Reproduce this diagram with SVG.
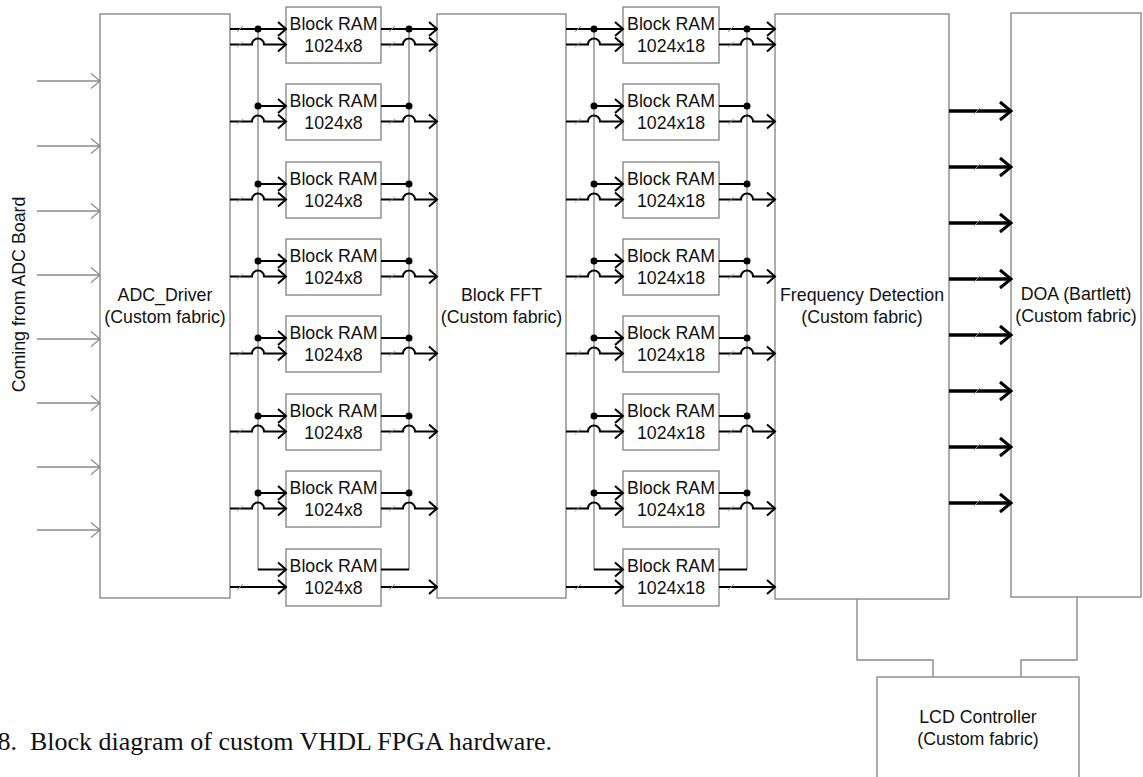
<svg xmlns="http://www.w3.org/2000/svg" width="1143" height="777" viewBox="0 0 1143 777">
<style>
.box{fill:#fff;stroke:#808080;stroke-width:1.3}
.t{font-family:"Liberation Sans",Arial,sans-serif;font-size:17.8px;fill:#111;text-anchor:middle}
.cap{font-family:"Liberation Serif","Times New Roman",serif;font-size:26px;fill:#111}
.w{fill:none;stroke:#000;stroke-width:2}
.k{fill:none;stroke:#000;stroke-width:3.5}
.g{fill:none;stroke:#8a8a8a;stroke-width:1.4}
.s{fill:none;stroke:#9a9a9a;stroke-width:1}
.d{fill:#000}
</style>
<defs>
<marker id="ab" markerUnits="userSpaceOnUse" markerWidth="14" markerHeight="20" refX="10" refY="9" orient="auto" overflow="visible"><path d="M2,2 L10,9 L2,16" fill="none" stroke="#000" stroke-width="2"/></marker>
<marker id="ag" markerUnits="userSpaceOnUse" markerWidth="14" markerHeight="20" refX="10" refY="9" orient="auto" overflow="visible"><path d="M1,1.5 L10,9 L1,16.5" fill="none" stroke="#8a8a8a" stroke-width="1.2"/></marker>
<marker id="ak" markerUnits="userSpaceOnUse" markerWidth="16" markerHeight="24" refX="13" refY="10" orient="auto" overflow="visible"><path d="M2,1 L13,10 L2,19" fill="none" stroke="#000" stroke-width="3"/></marker>
<path id="sl" class="s" d="M-3,3 L3,-3"/>
</defs>

<text class="t" transform="translate(25,294.5) rotate(-90)">Coming from ADC Board</text>

<g id="adc"><rect class="box" x="100" y="14" width="130" height="584"/><text class="t" x="165" y="301">ADC_Driver</text><text class="t" x="165" y="323">(Custom fabric)</text></g>
<g id="fft"><rect class="box" x="437" y="14" width="129" height="584"/><text class="t" x="501.5" y="301">Block FFT</text><text class="t" x="501.5" y="323">(Custom fabric)</text></g>
<g id="freq"><rect class="box" x="775" y="14" width="174" height="585"/><text class="t" x="862" y="301">Frequency Detection</text><text class="t" x="862" y="323">(Custom fabric)</text></g>
<g id="doa"><rect class="box" x="1011" y="13" width="130" height="584"/><text class="t" x="1076" y="300">DOA (Bartlett)</text><text class="t" x="1076" y="322">(Custom fabric)</text></g>
<g id="lcd"><rect class="box" x="877" y="677" width="202" height="120"/><text class="t" x="978" y="723">LCD Controller</text><text class="t" x="978" y="745">(Custom fabric)</text></g>

<g id="ram1-0"><rect class="box" x="286" y="7" width="95" height="56"/><text class="t" x="333.5" y="29.5">Block RAM</text><text class="t" x="333.5" y="51.5">1024x8</text></g>
<g id="ram1-1"><rect class="box" x="286" y="84" width="95" height="56"/><text class="t" x="333.5" y="106.5">Block RAM</text><text class="t" x="333.5" y="128.5">1024x8</text></g>
<g id="ram1-2"><rect class="box" x="286" y="162" width="95" height="56"/><text class="t" x="333.5" y="184.5">Block RAM</text><text class="t" x="333.5" y="206.5">1024x8</text></g>
<g id="ram1-3"><rect class="box" x="286" y="239" width="95" height="56"/><text class="t" x="333.5" y="261.5">Block RAM</text><text class="t" x="333.5" y="283.5">1024x8</text></g>
<g id="ram1-4"><rect class="box" x="286" y="316" width="95" height="56"/><text class="t" x="333.5" y="338.5">Block RAM</text><text class="t" x="333.5" y="360.5">1024x8</text></g>
<g id="ram1-5"><rect class="box" x="286" y="394" width="95" height="56"/><text class="t" x="333.5" y="416.5">Block RAM</text><text class="t" x="333.5" y="438.5">1024x8</text></g>
<g id="ram1-6"><rect class="box" x="286" y="471" width="95" height="56"/><text class="t" x="333.5" y="493.5">Block RAM</text><text class="t" x="333.5" y="515.5">1024x8</text></g>
<g id="ram1-7"><rect class="box" x="286" y="549" width="95" height="57"/><text class="t" x="333.5" y="571.5">Block RAM</text><text class="t" x="333.5" y="593.5">1024x8</text></g>

<g id="ram2-0"><rect class="box" x="623" y="7" width="96" height="56"/><text class="t" x="671" y="29.5">Block RAM</text><text class="t" x="671" y="51.5">1024x18</text></g>
<g id="ram2-1"><rect class="box" x="623" y="84" width="96" height="56"/><text class="t" x="671" y="106.5">Block RAM</text><text class="t" x="671" y="128.5">1024x18</text></g>
<g id="ram2-2"><rect class="box" x="623" y="162" width="96" height="56"/><text class="t" x="671" y="184.5">Block RAM</text><text class="t" x="671" y="206.5">1024x18</text></g>
<g id="ram2-3"><rect class="box" x="623" y="239" width="96" height="56"/><text class="t" x="671" y="261.5">Block RAM</text><text class="t" x="671" y="283.5">1024x18</text></g>
<g id="ram2-4"><rect class="box" x="623" y="316" width="96" height="56"/><text class="t" x="671" y="338.5">Block RAM</text><text class="t" x="671" y="360.5">1024x18</text></g>
<g id="ram2-5"><rect class="box" x="623" y="394" width="96" height="56"/><text class="t" x="671" y="416.5">Block RAM</text><text class="t" x="671" y="438.5">1024x18</text></g>
<g id="ram2-6"><rect class="box" x="623" y="471" width="96" height="56"/><text class="t" x="671" y="493.5">Block RAM</text><text class="t" x="671" y="515.5">1024x18</text></g>
<g id="ram2-7"><rect class="box" x="623" y="549" width="96" height="57"/><text class="t" x="671" y="571.5">Block RAM</text><text class="t" x="671" y="593.5">1024x18</text></g>

<g id="connectors">
<g marker-end="url(#ag)">
<path class="g" d="M37,81 H100"/><path class="g" d="M37,146 H100"/><path class="g" d="M37,211 H100"/><path class="g" d="M37,275 H100"/>
<path class="g" d="M37,339 H100"/><path class="g" d="M37,403 H100"/><path class="g" d="M37,467 H100"/><path class="g" d="M37,530 H100"/>
</g>
<path class="g" d="M258,29 V569.5"/><path class="g" d="M409,29 V569.5"/>
<path class="g" d="M594,29 V569.5"/><path class="g" d="M747,29 V569.5"/>

<path class="w" d="M230,29 H286" marker-end="url(#ab)"/>
<path class="w" d="M230,44.5 H252 A6,6 0 0 1 264,44.5 H286" marker-end="url(#ab)"/>
<path class="w" d="M258,106 H286" marker-end="url(#ab)"/><path class="w" d="M230,121.5 H252 A6,6 0 0 1 264,121.5 H286" marker-end="url(#ab)"/>
<path class="w" d="M258,184 H286" marker-end="url(#ab)"/><path class="w" d="M230,199.5 H252 A6,6 0 0 1 264,199.5 H286" marker-end="url(#ab)"/>
<path class="w" d="M258,261 H286" marker-end="url(#ab)"/><path class="w" d="M230,276.5 H252 A6,6 0 0 1 264,276.5 H286" marker-end="url(#ab)"/>
<path class="w" d="M258,338 H286" marker-end="url(#ab)"/><path class="w" d="M230,353.5 H252 A6,6 0 0 1 264,353.5 H286" marker-end="url(#ab)"/>
<path class="w" d="M258,416 H286" marker-end="url(#ab)"/><path class="w" d="M230,431.5 H252 A6,6 0 0 1 264,431.5 H286" marker-end="url(#ab)"/>
<path class="w" d="M258,493 H286" marker-end="url(#ab)"/><path class="w" d="M230,508.5 H252 A6,6 0 0 1 264,508.5 H286" marker-end="url(#ab)"/>
<path class="w" d="M258,569.5 H286" marker-end="url(#ab)"/><path class="w" d="M230,587 H286" marker-end="url(#ab)"/>

<path class="w" d="M381,29 H437" marker-end="url(#ab)"/>
<path class="w" d="M381,44.5 H403 A6,6 0 0 1 415,44.5 H437" marker-end="url(#ab)"/>
<path class="w" d="M381,106 H409"/><path class="w" d="M381,121.5 H403 A6,6 0 0 1 415,121.5 H437" marker-end="url(#ab)"/>
<path class="w" d="M381,184 H409"/><path class="w" d="M381,199.5 H403 A6,6 0 0 1 415,199.5 H437" marker-end="url(#ab)"/>
<path class="w" d="M381,261 H409"/><path class="w" d="M381,276.5 H403 A6,6 0 0 1 415,276.5 H437" marker-end="url(#ab)"/>
<path class="w" d="M381,338 H409"/><path class="w" d="M381,353.5 H403 A6,6 0 0 1 415,353.5 H437" marker-end="url(#ab)"/>
<path class="w" d="M381,416 H409"/><path class="w" d="M381,431.5 H403 A6,6 0 0 1 415,431.5 H437" marker-end="url(#ab)"/>
<path class="w" d="M381,493 H409"/><path class="w" d="M381,508.5 H403 A6,6 0 0 1 415,508.5 H437" marker-end="url(#ab)"/>
<path class="w" d="M381,569.5 H409"/><path class="w" d="M381,587 H437" marker-end="url(#ab)"/>

<path class="w" d="M566,29 H623" marker-end="url(#ab)"/>
<path class="w" d="M566,44.5 H588 A6,6 0 0 1 600,44.5 H623" marker-end="url(#ab)"/>
<path class="w" d="M594,106 H623" marker-end="url(#ab)"/><path class="w" d="M566,121.5 H588 A6,6 0 0 1 600,121.5 H623" marker-end="url(#ab)"/>
<path class="w" d="M594,184 H623" marker-end="url(#ab)"/><path class="w" d="M566,199.5 H588 A6,6 0 0 1 600,199.5 H623" marker-end="url(#ab)"/>
<path class="w" d="M594,261 H623" marker-end="url(#ab)"/><path class="w" d="M566,276.5 H588 A6,6 0 0 1 600,276.5 H623" marker-end="url(#ab)"/>
<path class="w" d="M594,338 H623" marker-end="url(#ab)"/><path class="w" d="M566,353.5 H588 A6,6 0 0 1 600,353.5 H623" marker-end="url(#ab)"/>
<path class="w" d="M594,416 H623" marker-end="url(#ab)"/><path class="w" d="M566,431.5 H588 A6,6 0 0 1 600,431.5 H623" marker-end="url(#ab)"/>
<path class="w" d="M594,493 H623" marker-end="url(#ab)"/><path class="w" d="M566,508.5 H588 A6,6 0 0 1 600,508.5 H623" marker-end="url(#ab)"/>
<path class="w" d="M594,569.5 H623" marker-end="url(#ab)"/><path class="w" d="M566,587 H623" marker-end="url(#ab)"/>

<path class="w" d="M719,29 H775" marker-end="url(#ab)"/>
<path class="w" d="M719,44.5 H741 A6,6 0 0 1 753,44.5 H775" marker-end="url(#ab)"/>
<path class="w" d="M719,106 H747"/><path class="w" d="M719,121.5 H741 A6,6 0 0 1 753,121.5 H775" marker-end="url(#ab)"/>
<path class="w" d="M719,184 H747"/><path class="w" d="M719,199.5 H741 A6,6 0 0 1 753,199.5 H775" marker-end="url(#ab)"/>
<path class="w" d="M719,261 H747"/><path class="w" d="M719,276.5 H741 A6,6 0 0 1 753,276.5 H775" marker-end="url(#ab)"/>
<path class="w" d="M719,338 H747"/><path class="w" d="M719,353.5 H741 A6,6 0 0 1 753,353.5 H775" marker-end="url(#ab)"/>
<path class="w" d="M719,416 H747"/><path class="w" d="M719,431.5 H741 A6,6 0 0 1 753,431.5 H775" marker-end="url(#ab)"/>
<path class="w" d="M719,493 H747"/><path class="w" d="M719,508.5 H741 A6,6 0 0 1 753,508.5 H775" marker-end="url(#ab)"/>
<path class="w" d="M719,569.5 H747"/><path class="w" d="M719,587 H775" marker-end="url(#ab)"/>

<g class="d">
<circle cx="258" cy="29" r="3.5"/><circle cx="258" cy="106" r="3.5"/><circle cx="258" cy="184" r="3.5"/><circle cx="258" cy="261" r="3.5"/><circle cx="258" cy="338" r="3.5"/><circle cx="258" cy="416" r="3.5"/><circle cx="258" cy="493" r="3.5"/>
<circle cx="409" cy="29" r="3.5"/><circle cx="409" cy="106" r="3.5"/><circle cx="409" cy="184" r="3.5"/><circle cx="409" cy="261" r="3.5"/><circle cx="409" cy="338" r="3.5"/><circle cx="409" cy="416" r="3.5"/><circle cx="409" cy="493" r="3.5"/>
<circle cx="594" cy="29" r="3.5"/><circle cx="594" cy="106" r="3.5"/><circle cx="594" cy="184" r="3.5"/><circle cx="594" cy="261" r="3.5"/><circle cx="594" cy="338" r="3.5"/><circle cx="594" cy="416" r="3.5"/><circle cx="594" cy="493" r="3.5"/>
<circle cx="747" cy="29" r="3.5"/><circle cx="747" cy="106" r="3.5"/><circle cx="747" cy="184" r="3.5"/><circle cx="747" cy="261" r="3.5"/><circle cx="747" cy="338" r="3.5"/><circle cx="747" cy="416" r="3.5"/><circle cx="747" cy="493" r="3.5"/>
</g>

<use href="#sl" x="240" y="29"/><use href="#sl" x="240" y="44.5"/><use href="#sl" x="240" y="121.5"/><use href="#sl" x="240" y="199.5"/><use href="#sl" x="240" y="276.5"/><use href="#sl" x="240" y="353.5"/><use href="#sl" x="240" y="431.5"/><use href="#sl" x="240" y="508.5"/><use href="#sl" x="240" y="587"/>
<use href="#sl" x="392" y="29"/><use href="#sl" x="392" y="44.5"/><use href="#sl" x="392" y="121.5"/><use href="#sl" x="392" y="199.5"/><use href="#sl" x="392" y="276.5"/><use href="#sl" x="392" y="353.5"/><use href="#sl" x="392" y="431.5"/><use href="#sl" x="392" y="508.5"/><use href="#sl" x="392" y="587"/>
<use href="#sl" x="578" y="29"/><use href="#sl" x="578" y="44.5"/><use href="#sl" x="578" y="121.5"/><use href="#sl" x="578" y="199.5"/><use href="#sl" x="578" y="276.5"/><use href="#sl" x="578" y="353.5"/><use href="#sl" x="578" y="431.5"/><use href="#sl" x="578" y="508.5"/><use href="#sl" x="578" y="587"/>
<use href="#sl" x="731" y="29"/><use href="#sl" x="731" y="44.5"/><use href="#sl" x="731" y="121.5"/><use href="#sl" x="731" y="199.5"/><use href="#sl" x="731" y="276.5"/><use href="#sl" x="731" y="353.5"/><use href="#sl" x="731" y="431.5"/><use href="#sl" x="731" y="508.5"/><use href="#sl" x="731" y="587"/>

<g marker-end="url(#ak)">
<path class="k" d="M949,111 H1011"/><path class="k" d="M949,167 H1011"/><path class="k" d="M949,223 H1011"/><path class="k" d="M949,279 H1011"/>
<path class="k" d="M949,335 H1011"/><path class="k" d="M949,391 H1011"/><path class="k" d="M949,447 H1011"/><path class="k" d="M949,503 H1011"/>
</g>
<use href="#sl" x="977" y="111"/><use href="#sl" x="977" y="167"/><use href="#sl" x="977" y="223"/><use href="#sl" x="977" y="279"/>
<use href="#sl" x="977" y="335"/><use href="#sl" x="977" y="391"/><use href="#sl" x="977" y="447"/><use href="#sl" x="977" y="503"/>

<path class="g" d="M857,599 V660 H933 V677"/>
<path class="g" d="M1077,597 V660 H1021 V677"/>
</g>

<text class="cap" x="-2.5" y="750" xml:space="preserve">8.  Block diagram of custom VHDL FPGA hardware.</text>
</svg>
